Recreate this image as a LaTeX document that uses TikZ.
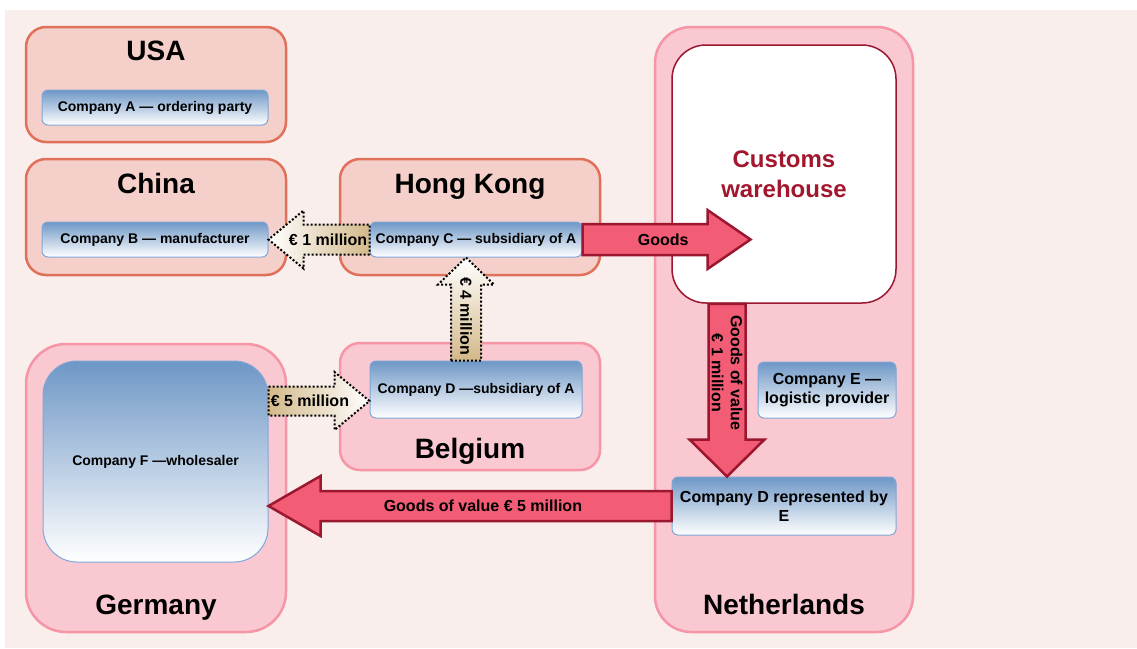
\documentclass[tikz,border=0pt]{standalone}
\usepackage{fontspec}
\setmainfont{Liberation Sans}
\usetikzlibrary{positioning,calc}
\definecolor{backdrop}{HTML}{FAEEEC}
\definecolor{hotfill}{HTML}{F5D0CA}
\definecolor{hotline}{HTML}{E0705A}
\definecolor{softfill}{HTML}{FAC8D1}
\definecolor{softline}{HTML}{F595A6}
\definecolor{firmtop}{HTML}{6E97C6}
\definecolor{firmline}{HTML}{7EA7D9}
\definecolor{goodsfill}{HTML}{F25C74}
\definecolor{goodsline}{HTML}{9B1730}
\definecolor{cash}{HTML}{D3B98A}
\definecolor{whtext}{HTML}{A2172E}
\tikzset{
  region/.style={line width=2.5pt, rounded corners=20pt},
  hot/.style={region, fill=hotfill, draw=hotline},
  soft/.style={region, fill=softfill, draw=softline},
  store/.style={draw=goodsline, line width=1.5pt, fill=white, rounded corners=34pt,
    align=center, text=whtext, font=\fontsize{24}{30}\selectfont\bfseries},
  firm/.style={draw=firmline, line width=1pt, rounded corners=6pt, top color=firmtop,
    bottom color=white, align=center, inner sep=2pt, font=\fontsize{14}{17}\selectfont\bfseries},
  bigfirm/.style={firm, font=\fontsize{16}{19}\selectfont\bfseries},
  title/.style={anchor=base, font=\fontsize{28}{32}\selectfont\bfseries},
  goods/.style={draw=goodsline, fill=goodsfill, line width=2.5pt, line join=miter},
  money/.style={draw=black, dotted, line width=2pt},
  lbl/.style={align=center, inner sep=0pt, font=\fontsize{16}{19}\selectfont\bfseries},
}
% #1 style, #2 tail, #3 tip, #4 half shaft, #5 half head, #6 head length
\newcommand{\blockarrow}[6]{%
  \coordinate (ba-h) at ($(#3)!#6!(#2)$);
  \draw[#1] ($(#2)!#4!90:(#3)$) -- ($(ba-h)!#4!90:(#3)$) -- ($(ba-h)!#5!90:(#3)$)
    -- (#3) -- ($(ba-h)!#5!-90:(#3)$) -- ($(ba-h)!#4!-90:(#3)$)
    -- ($(#2)!#4!-90:(#3)$) -- cycle;
}

\begin{document}
\begin{tikzpicture}[x=1pt, y=-1pt]
    \useasboundingbox (0,0) rectangle (1137,648);
    \fill[backdrop] (5,10) rectangle (1137,648);

    % countries
    \node[hot, minimum width=260pt, minimum height=115pt] (usa) at (156,84.5) {};
    \node[hot, minimum width=260pt, minimum height=116pt] (china) at (156,217) {};
    \node[hot, minimum width=260pt, minimum height=116pt] (hk) at (470,217) {};
    \node[soft, minimum width=260pt, minimum height=127pt] (bel) at (470,406.5) {};
    \node[soft, minimum width=260pt, minimum height=288pt, rounded corners=40pt] (ger) at (156,488) {};
    \node[soft, minimum width=258pt, minimum height=605pt, rounded corners=36pt] (nl) at (784,329.5) {};

    \node[title] at ([yshift=-35pt]usa.north) {USA};
    \node[title] at ([yshift=-36pt]china.north) {China};
    \node[title] at ([yshift=-36pt]hk.north) {Hong Kong};
    \node[title] at ([yshift=13pt]bel.south) {Belgium};
    \node[title] at ([yshift=19pt]ger.south) {Germany};
    \node[title] at ([yshift=19pt]nl.south) {Netherlands};

    \node[store, minimum width=224pt, minimum height=258pt] (wh) at (784,174) {Customs\\warehouse};

    % companies
    \node[firm, minimum width=226pt, minimum height=35pt] (cA) at (155,107.5) {Company A — ordering party};
    \node[firm, minimum width=226pt, minimum height=35pt] (cB) at (155,239.5) {Company B — manufacturer};
    \node[firm, minimum width=212pt, minimum height=35pt] (cC) at (476,239.5) {Company C — subsidiary of A};
    \node[firm, minimum width=212pt, minimum height=57pt] (cD) at (476,389.5) {Company D —subsidiary of A};
    \node[firm, minimum width=225pt, minimum height=201pt, rounded corners=34pt] (cF) at (155.5,461.5) {Company F —wholesaler};
    \node[bigfirm, minimum width=138pt, minimum height=56pt] (cE) at (827,390) {Company E —\\logistic provider};
    \node[bigfirm, minimum width=224pt, minimum height=58pt] (cDE) at (784,506) {Company D represented by\\E};

    % flows of goods
    \coordinate (goodsTip) at ([xshift=168pt]cC.east);
    \blockarrow{goods}{cC.east}{goodsTip}{15.5pt}{29.5pt}{43pt}
    \node[lbl] at ($(cC.east)!0.48!(goodsTip)$) {Goods};

    \coordinate (downTail) at ([xshift=-57pt]wh.south);
    \coordinate (downTip) at (downTail |- cDE.north);
    \blockarrow{goods}{downTail}{downTip}{18.5pt}{37.5pt}{37pt}
    \node[lbl, rotate=-90] at ($(downTail)!0.40!(downTip)$) {Goods of value\\€ 1 million};

    \coordinate (sellTip) at (cF.east |- cDE.west);
    \blockarrow{goods}{cDE.west}{sellTip}{15pt}{30pt}{52pt}
    \node[lbl] at ($(cDE.west)!0.468!(sellTip)$) {Goods of value € 5 million};

    % flows of money
    \blockarrow{money, left color=white, right color=cash}{cC.west}{cB.east}{15pt}{29pt}{35pt}
    \node[lbl] at ($(cC.west)!0.41!(cB.east)$) {€ 1 million};

    \coordinate (upTail) at ([xshift=-10pt]cD.north);
    \coordinate (upTip) at (upTail |- cC.south);
    \blockarrow{money, top color=white, bottom color=cash}{upTail}{upTip}{15pt}{28pt}{27pt}
    \node[lbl, rotate=-90] at ($(upTail)!0.43!(upTip)$) {€ 4 million};

    \coordinate (payTail) at ([yshift=-11.5pt]cD.west -| cF.east);
    \coordinate (payTip) at ([yshift=-11.5pt]cD.west);
    \blockarrow{money, left color=cash, right color=white}{payTail}{payTip}{14.5pt}{29pt}{35pt}
    \node[lbl] at ($(payTail)!0.41!(payTip)$) {€ 5 million};
\end{tikzpicture}
\end{document}
